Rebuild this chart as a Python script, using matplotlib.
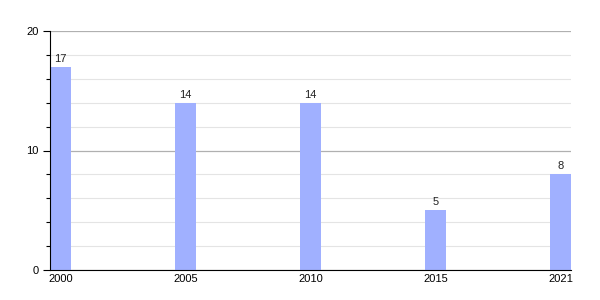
import matplotlib.pyplot as plt
from matplotlib.ticker import MultipleLocator

plt.rcParams['font.family'] = ['Liberation Sans', 'DejaVu Sans']

years = ['2000', '2005', '2010', '2015', '2021']
values = [17, 14, 14, 5, 8]

fig = plt.figure(figsize=(6, 3), dpi=100)
ax = fig.add_axes([50 / 600, 30 / 300, 521 / 600, 239 / 300])

pos = range(len(years))
width = 0.168
bars = ax.bar(pos, values, width=width, color='#a0b0ff', zorder=3)

for b, v in zip(bars, values):
    ax.text(b.get_x() + b.get_width() / 2, v + 0.25, str(v),
            ha='center', va='bottom', fontsize=8, color='#222222')

ax.set_xlim(-width / 2, len(years) - 1 + width / 2)
ax.set_ylim(0, 20)
ax.set_xticks(list(pos))
ax.set_xticklabels(years)

ax.yaxis.set_major_locator(MultipleLocator(10))
ax.yaxis.set_minor_locator(MultipleLocator(2))
ax.grid(axis='y', which='major', color='#b0b0b0', linewidth=0.9, zorder=0)
ax.grid(axis='y', which='minor', color='#e4e4e4', linewidth=0.8, zorder=0)

ax.tick_params(axis='x', length=0, labelsize=8, pad=3)
ax.tick_params(axis='y', which='major', length=5, width=0.8, labelsize=8, pad=3)
ax.tick_params(axis='y', which='minor', length=3, width=0.8)

for s in ['top', 'right']:
    ax.spines[s].set_visible(False)
ax.spines['left'].set_color('black')
ax.spines['bottom'].set_color('black')
ax.spines['left'].set_zorder(4)
ax.spines['bottom'].set_zorder(4)

fig.savefig('out.png', dpi=100)
